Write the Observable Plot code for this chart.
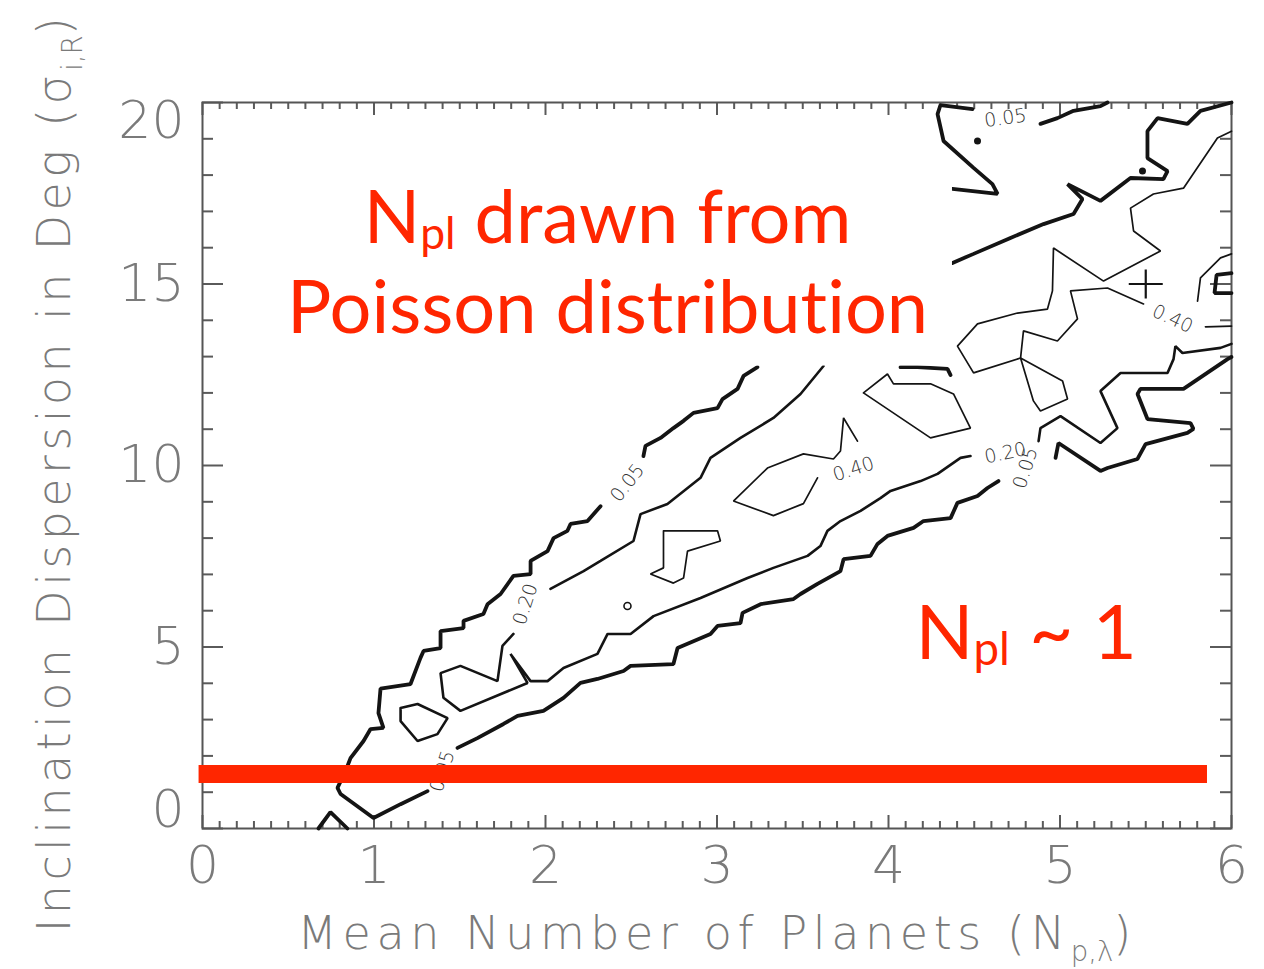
<!DOCTYPE html>
<html>
<head>
<meta charset="utf-8">
<script src="https://cdn.jsdelivr.net/npm/d3@7"></script>
<script src="https://cdn.jsdelivr.net/npm/@observablehq/plot@0.6"></script>
<style>
  html, body { margin: 0; padding: 0; background: #fff; }
  #chart { width: 1264px; height: 969px; }
  #chart svg text { font-variant-ligatures: none; font-feature-settings: "liga" 0, "clig" 0; }
</style>
</head>
<body>
<div id="chart"></div>
<script>
// Contour segments, [x, y] in (mean number of planets, inclination dispersion in deg).
// Segments break where an inline level label sits on the line.
const contour05 = [
  [[3.236,12.71],[3.155,12.47],[3.120,12.11],[3.032,11.83],[3.003,11.58],[2.863,11.45],[2.805,11.23],[2.746,11.03],[2.671,10.76],[2.583,10.54],[2.571,10.26]],
  [[2.321,8.88],[2.245,8.47],[2.146,8.39],[2.128,8.20],[2.047,8.00],[2.012,7.64],[1.913,7.37],[1.913,7.01],[1.813,6.96],[1.738,6.46],[1.662,6.18],[1.638,5.91],[1.522,5.72],[1.522,5.52],[1.388,5.44],[1.388,4.97],[1.289,4.89],[1.271,4.70],[1.213,3.98],[1.038,3.85],[1.026,3.18],[1.055,2.77],[0.980,2.74],[0.939,2.41],[0.863,1.94],[0.834,1.58],[0.787,1.12],[0.805,0.95],[0.997,0.29],[1.155,0.67],[1.312,1.03]],
  [[1.487,2.22],[1.603,2.49],[1.755,2.88],[1.837,3.10],[1.988,3.24],[2.105,3.60],[2.204,4.01],[2.303,4.12],[2.455,4.34],[2.496,4.48],[2.746,4.53],[2.770,4.97],[2.962,5.36],[3.003,5.58],[3.137,5.66],[3.149,5.94],[3.254,6.18],[3.446,6.32],[3.487,6.46],[3.586,6.74],[3.720,7.09],[3.738,7.42],[3.895,7.51],[3.936,7.84],[3.994,8.06],[4.146,8.28],[4.204,8.47],[4.362,8.55],[4.402,8.97],[4.519,9.16],[4.577,9.38],[4.641,9.57]],
  [[4.974,10.21],[4.991,10.62],[5.236,9.85],[5.277,9.93],[5.452,10.18],[5.499,10.59],[5.743,10.90],[5.778,11.01],[5.761,11.17],[5.510,11.28],[5.452,11.97],[5.469,12.11],[5.720,12.11],[5.977,12.93],[6.0,12.99]],
  [[4.373,17.62],[4.636,17.48],[4.606,17.75],[4.496,18.20],[4.321,18.94],[4.286,19.68],[4.303,19.93],[4.490,19.82]],
  [[4.886,19.41],[4.985,19.57],[5.079,19.77],[5.236,19.90],[5.277,20.0]],
  [[6.0,20.0],[5.819,19.77],[5.743,19.41],[5.569,19.57],[5.510,19.21],[5.510,18.47],[5.627,18.11],[5.603,17.89],[5.411,17.92],[5.236,17.29],[5.044,17.75],[5.131,17.34],[5.079,16.93],[4.904,16.65],[4.711,16.27],[4.496,15.83],[4.373,15.58]],
  [[4.070,12.71],[4.169,12.71],[4.344,12.66],[4.362,12.49]],
  [[6.0,15.30],[5.913,15.25],[5.901,14.75],[6.0,14.75]],
  [[0.676,0],[0.746,0.45],[0.845,0]]
];

const contour20 = [
  [[2.029,6.60],[2.222,7.09],[2.321,7.37],[2.513,7.92],[2.554,8.66],[2.711,8.94],[2.904,9.66],[2.962,10.21],[3.137,10.76],[3.329,11.31],[3.487,11.97],[3.621,12.74]],
  [[1.813,5.36],[1.749,5.03],[1.720,4.06],[1.504,4.48],[1.388,4.28],[1.405,3.60],[1.504,3.24],[1.895,4.01],[1.796,4.81],[1.913,4.06],[2.012,4.06],[2.105,4.42],[2.303,4.81],[2.362,5.36],[2.496,5.36],[2.630,5.85],[2.904,6.35],[3.178,6.90],[3.329,7.18],[3.528,7.51],[3.603,7.78],[3.644,8.20],[3.720,8.47],[3.837,8.75],[3.953,9.10],[4.012,9.30],[4.187,9.57],[4.286,9.77],[4.420,10.21],[4.478,10.26]],
  [[4.875,10.67],[4.886,11.03],[5.003,11.36],[5.236,10.62],[5.335,11.03],[5.236,12.05],[5.353,12.55],[5.627,12.55],[5.662,12.93],[5.673,13.29],[5.714,13.10],[5.936,13.24],[6.0,13.35]],
  [[1.155,3.32],[1.254,3.43],[1.429,3.04],[1.370,2.60],[1.254,2.41],[1.155,2.96],[1.155,3.32]]
];

const contour40 = [
  [[3.854,12.00],[3.994,12.52],[4.029,12.25],[4.245,12.25],[4.379,11.97],[4.478,11.03],[4.245,10.76],[3.854,12.00]],
  [[3.586,9.66],[3.504,8.95],[3.329,8.62],[3.096,9.02],[3.294,9.93],[3.504,10.32],[3.679,10.18],[3.720,10.40],[3.738,11.31],[3.819,10.67]],
  [[2.688,8.20],[3.003,8.20],[3.020,7.92],[2.828,7.64],[2.805,6.90],[2.746,6.76],[2.612,7.01],[2.688,7.18],[2.688,8.20]],
  [[5.487,14.45],[5.277,14.89],[5.061,14.81],[5.102,14.04],[4.985,13.43],[4.787,13.71],[4.770,12.96],[4.496,12.55],[4.402,13.29],[4.519,13.90],[4.752,14.20],[4.927,14.31],[4.956,14.81],[4.962,15.99],[5.254,15.08],[5.586,15.91],[5.429,16.46],[5.411,17.09],[5.545,17.48],[5.720,17.64],[5.918,19.02],[6.0,19.21]],
  [[4.770,12.96],[4.845,11.78],[4.886,11.50],[5.044,11.83],[5.015,12.33],[4.770,12.96]],
  [[5.848,13.82],[6.0,13.84]],
  [[5.802,14.53],[5.819,15.17],[5.936,15.72],[6.0,15.83]]
];

// Tiny closed 0.05 islands and a tiny 0.40 ring
const islands05 = [[4.519,18.94],[5.481,18.11]];
const rings40 = [[2.478,6.13]];

// Inline contour level labels
const contourLabels = [
  {x: 2.478, y: 9.52, text: "0.05", angle: -52},
  {x: 1.399, y: 1.58, text: "0.05", angle: -72},
  {x: 4.799, y: 9.93, text: "0.05", angle: -72},
  {x: 4.682, y: 19.57, text: "0.05", angle: -8},
  {x: 1.883, y: 6.18, text: "0.20", angle: -72},
  {x: 4.682, y: 10.34, text: "0.20", angle: -12},
  {x: 3.796, y: 9.90, text: "0.40", angle: -18},
  {x: 5.656, y: 14.04, text: "0.40", angle: 25}
];

// Best-fit marker
const bestFit = [[5.5, 15]];

// Inclination cut for the N_pl ~ 1 regime
const singlePlanetCut = [{y: 1.5, x1: -0.02, x2: 5.86}];

// Axis ticks
const xMajor = [0, 1, 2, 3, 4, 5, 6];
const xMinor = d3.range(61).filter(i => i % 10 !== 0).map(i => i / 10);
const yMajor = [0, 5, 10, 15, 20];
const yMinor = d3.range(21).filter(i => i % 5 !== 0);

const xTitle = "Mean Number of Planets (N_{p,λ})";
const yTitle = "Inclination Dispersion in Deg (σ_{i,R})";

// ---- chart ----
const W = 1264, H = 969;
const M = {left: 202, right: 33, top: 102, bottom: 141};
const PW = W - M.left - M.right, PH = H - M.top - M.bottom;

const rows = (segs, level) => segs.flatMap((s, i) => s.map(([x, y]) => ({x, y, seg: level + "-" + i})));

const axisFont = "DejaVu Sans";
const axisGray = "#7a7a7a";
const lineInk = "#141414";
const red = "#ff2600";

const tickStyle = {stroke: "#5a5a5a", strokeWidth: 2};

const plot = Plot.plot({
  width: W, height: H,
  marginLeft: M.left, marginRight: M.right, marginTop: M.top, marginBottom: M.bottom,
  x: {domain: [0, 6], axis: null},
  y: {domain: [0, 20], axis: null},
  style: {background: "#fff", overflow: "visible"},
  marks: [
    // inward IDL-style ticks on all four sides
    Plot.tickX(xMajor, {x: d => d, insetTop: PH - 13, ...tickStyle}),
    Plot.tickX(xMinor, {x: d => d, insetTop: PH - 7, ...tickStyle}),
    Plot.tickX(xMajor, {x: d => d, insetBottom: PH - 13, ...tickStyle}),
    Plot.tickX(xMinor, {x: d => d, insetBottom: PH - 7, ...tickStyle}),
    Plot.tickY(yMajor, {y: d => d, insetRight: PW - 21, ...tickStyle}),
    Plot.tickY(yMinor, {y: d => d, insetRight: PW - 11, ...tickStyle}),
    Plot.tickY(yMajor, {y: d => d, insetLeft: PW - 21, ...tickStyle}),
    Plot.tickY(yMinor, {y: d => d, insetLeft: PW - 11, ...tickStyle}),
    Plot.frame({stroke: "#555", strokeWidth: 2}),

    // contours
    Plot.line(rows(contour40, "c40"), {x: "x", y: "y", z: "seg", stroke: lineInk, strokeWidth: 1.7, strokeLinejoin: "miter"}),
    Plot.line(rows(contour20, "c20"), {x: "x", y: "y", z: "seg", stroke: lineInk, strokeWidth: 2.6, strokeLinejoin: "miter"}),
    Plot.line(rows(contour05, "c05"), {x: "x", y: "y", z: "seg", stroke: lineInk, strokeWidth: 3.8, strokeLinejoin: "miter"}),
    Plot.dot(islands05, {x: d => d[0], y: d => d[1], r: 3.5, fill: lineInk, stroke: null}),
    Plot.dot(rings40, {x: d => d[0], y: d => d[1], r: 3.5, fill: "none", stroke: lineInk, strokeWidth: 1.6}),
    Plot.text(contourLabels, {x: "x", y: "y", text: "text", rotate: "angle", fontSize: 19, fontFamily: axisFont, fontWeight: 300, fill: "#333", lineAnchor: "middle"}),
    Plot.dot(bestFit, {
      x: d => d[0], y: d => d[1], r: 17,
      symbol: {draw(ctx, size) { const h = Math.sqrt(size / Math.PI); ctx.moveTo(-h, 0); ctx.lineTo(h, 0); ctx.moveTo(0, -h * 0.85); ctx.lineTo(0, h * 0.85); }},
      stroke: lineInk, strokeWidth: 2.2, fill: "none"
    }),

    // N_pl ~ 1 cut
    Plot.ruleY(singlePlanetCut, {y: "y", x1: "x1", x2: "x2", stroke: red, strokeWidth: 18}),

    // annotation backdrop and red annotations
    Plot.rect([{x1: 0.455, x2: 4.373, y1: 12.74, y2: 17.98}], {x1: "x1", x2: "x2", y1: "y1", y2: "y2", fill: "#fff"}),
    Plot.text(["N_{pl} drawn from"], {x: 2.362, y: 16.14, lineAnchor: "bottom", textAnchor: "middle", fontSize: 74, fontFamily: "Lato", fill: red}),
    Plot.text(["Poisson distribution"], {x: 2.362, y: 13.64, lineAnchor: "bottom", textAnchor: "middle", fontSize: 74, fontFamily: "Lato", fill: red}),
    Plot.text(["N_{pl} ~ 1"], {x: 4.157, y: 4.68, lineAnchor: "bottom", textAnchor: "start", fontSize: 76, fontFamily: "Lato", fill: red}),

    // tick labels
    Plot.text(xMajor, {x: d => d, text: d => String(d), frameAnchor: "bottom", dy: 38, textAnchor: "middle", lineAnchor: "middle", fontSize: 52, fontFamily: axisFont, fontWeight: 200, fill: axisGray}),
    Plot.text([5, 10, 15], {y: d => d, text: d => String(d), frameAnchor: "left", dx: -18, textAnchor: "end", lineAnchor: "middle", fontSize: 52, fontFamily: axisFont, fontWeight: 200, fill: axisGray}),
    Plot.text([20], {y: d => d, text: d => String(d), frameAnchor: "left", dx: -18, dy: 19, textAnchor: "end", lineAnchor: "middle", fontSize: 52, fontFamily: axisFont, fontWeight: 200, fill: axisGray}),
    Plot.text([0], {y: d => d, text: d => String(d), frameAnchor: "left", dx: -18, dy: -18, textAnchor: "end", lineAnchor: "middle", fontSize: 52, fontFamily: axisFont, fontWeight: 200, fill: axisGray}),

    // axis titles
    Plot.text([xTitle], {frameAnchor: "bottom", dy: 106, textAnchor: "middle", lineAnchor: "middle", fontSize: 46, fontFamily: axisFont, fontWeight: 200, fill: axisGray}),
    Plot.text([yTitle], {frameAnchor: "left", dx: -147, dy: 7, rotate: -90, textAnchor: "middle", lineAnchor: "middle", fontSize: 46, fontFamily: axisFont, fontWeight: 200, fill: axisGray})
  ]
});

document.getElementById("chart").appendChild(plot);

// Wider letter spacing for the axis titles
const titleSpacing = new Map([[xTitle, 5.6], [yTitle, 4.4]]);
plot.querySelectorAll("text").forEach(t => {
  if (titleSpacing.has(t.textContent)) t.setAttribute("letter-spacing", titleSpacing.get(t.textContent));
});

// Render "_{...}" as subscripts
const subShift = {"pl": 0.09, "p,λ": 0.25, "i,R": 0.25};
plot.querySelectorAll("text").forEach(t => {
  if (t.querySelector("tspan")) return;
  const m = t.textContent.match(/^(.*?)_\{(.+?)\}(.*)$/);
  if (!m) return;
  const fs = parseFloat(getComputedStyle(t).fontSize);
  const shift = (subShift[m[2]] ?? 0.25) * fs;
  const ns = "http://www.w3.org/2000/svg";
  t.textContent = "";
  const a = document.createElementNS(ns, "tspan"); a.textContent = m[1];
  const b = document.createElementNS(ns, "tspan"); b.textContent = m[2];
  b.setAttribute("font-size", (fs * 0.6).toFixed(1)); b.setAttribute("dy", shift.toFixed(1));
  b.setAttribute("letter-spacing", "0");
  const c = document.createElementNS(ns, "tspan"); c.textContent = m[3]; c.setAttribute("dy", (-shift).toFixed(1));
  t.append(a, b, c);
});
</script>
</body>
</html>
